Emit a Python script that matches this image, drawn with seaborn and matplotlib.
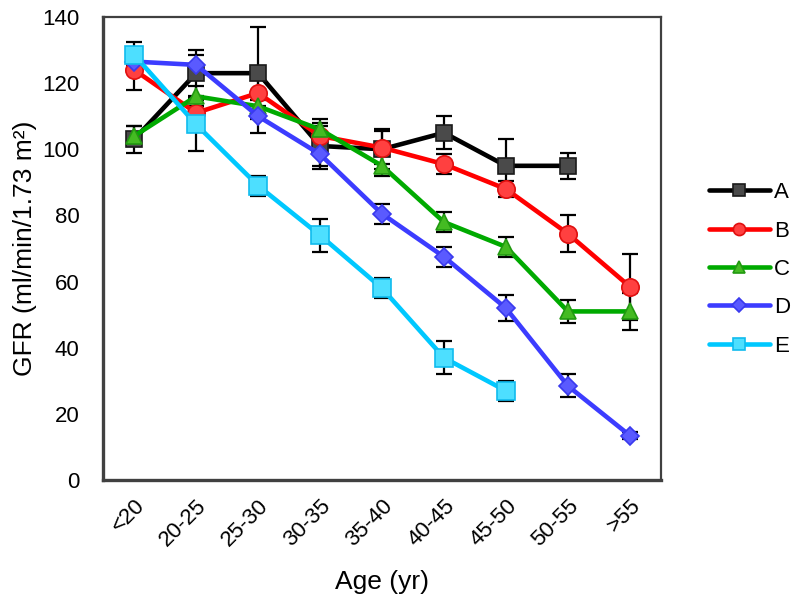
import matplotlib
matplotlib.use("Agg")
import matplotlib.pyplot as plt
import seaborn as sns
import numpy as np
import pandas as pd

categories = ["<20", "20-25", "25-30", "30-35", "35-40", "40-45", "45-50", "50-55", ">55"]
series_names = ["A", "B", "C", "D", "E"]

A_vals = [103, 123, 123, 101, 100, 105, 95, 95]
A_err = [4, 7, 14, 7, 6, 5, 8, 4]
B_vals = [124, 111, 117, 104, 100.5, 95.5, 88, 74.5, 58.5]
B_err = [6, 4, 4, 3, 5, 3, 2.5, 5.5, 10]
C_vals = [104, 116, 113, 106, 95, 78, 70.5, 51, 51]
C_err = [3, 3, 3, 3, 3, 3, 3, 3.5, 5.5]
D_vals = [126.5, 125.5, 110, 98.5, 80.5, 67.5, 52, 28.5, 13.5]
D_err = [1, 3, 5, 3.5, 3, 3, 4, 3.5, 1]
E_vals = [128.5, 107.5, 89, 74, 58, 37, 27]
E_err = [4, 8, 3, 5, 3, 5, 3]

values = {"A": A_vals, "B": B_vals, "C": C_vals, "D": D_vals, "E": E_vals}
errors = {"A": A_err, "B": B_err, "C": C_err, "D": D_err, "E": E_err}

styles = {
    "A": dict(line="#000000", face="#4a4a4a", edge="#1a1a1a", marker="s", ms=11.5),
    "B": dict(line="#ff0000", face="#ff4040", edge="#e01010", marker="o", ms=12.5),
    "C": dict(line="#00aa00", face="#44bb22", edge="#229911", marker="^", ms=12),
    "D": dict(line="#3c3cff", face="#5a5aff", edge="#3a3aee", marker="D", ms=9.5),
    "E": dict(line="#00c8ff", face="#4ddfff", edge="#10bbee", marker="s", ms=12.5),
}

rows = []
for s in series_names:
    for i, v in enumerate(values[s]):
        rows.append({"series": s, "x": i, "age": categories[i], "GFR": v, "err": errors[s][i]})
df = pd.DataFrame(rows)

sns.set_style("white")
plt.rcParams["font.family"] = ["Liberation Sans", "DejaVu Sans"]
plt.rcParams["text.color"] = "black"
plt.rcParams["axes.labelcolor"] = "black"
plt.rcParams["xtick.color"] = "black"
plt.rcParams["ytick.color"] = "black"

fig = plt.figure(figsize=(8.0, 6.04), dpi=100)
ax = fig.add_axes([0.129, 0.205, 0.697, 0.767])

for k, s in enumerate(series_names):
    d = df[df["series"] == s]
    ax.errorbar(d["x"], d["GFR"], yerr=d["err"], fmt="none", ecolor="black",
                elinewidth=1.6, capsize=5.5, capthick=1.6, zorder=2 + k * 0.1)
for k, s in enumerate(series_names):
    d = df[df["series"] == s]
    st = styles[s]
    sns.lineplot(data=d, x="x", y="GFR", ax=ax, color=st["line"], linewidth=3.3,
                 marker=st["marker"], markersize=st["ms"], markerfacecolor=st["face"],
                 markeredgecolor=st["edge"], markeredgewidth=1.2, label=s,
                 zorder=3 + k, errorbar=None, sort=False)

ax.set_xlim(-0.5, len(categories) - 0.5)
ax.set_ylim(0, 140)
ax.set_yticks(np.arange(0, 141, 20))
ax.set_xticks(np.arange(-0.5, len(categories) + 0.5, 1))
ax.set_xticklabels([])
ax.set_xticks(np.arange(len(categories)), minor=True)
ax.set_xticklabels(categories, minor=True, rotation=45, ha="right", rotation_mode="anchor")
ax.tick_params(axis="x", which="minor", length=0, pad=11, labelsize=16)
ax.tick_params(axis="x", which="major", length=6, width=2, color="#404040", direction="out")
ax.tick_params(axis="y", length=6, width=2, color="#404040", direction="out", labelsize=16, pad=11)

for side in ["left", "bottom"]:
    ax.spines[side].set_linewidth(2.4)
    ax.spines[side].set_color("#404040")
for side in ["top", "right"]:
    ax.spines[side].set_linewidth(1.6)
    ax.spines[side].set_color("#404040")

ax.set_xlabel("Age (yr)", fontsize=19, labelpad=14)
ax.set_ylabel("GFR (ml/min/1.73 m²)", fontsize=19, labelpad=4)

leg = ax.legend(loc="center left", bbox_to_anchor=(1.05, 0.455), frameon=False,
                fontsize=16, handlelength=2.75, labelspacing=0.78, markerscale=0.7,
                handletextpad=0.2)

fig.savefig("out.png", dpi=100)
